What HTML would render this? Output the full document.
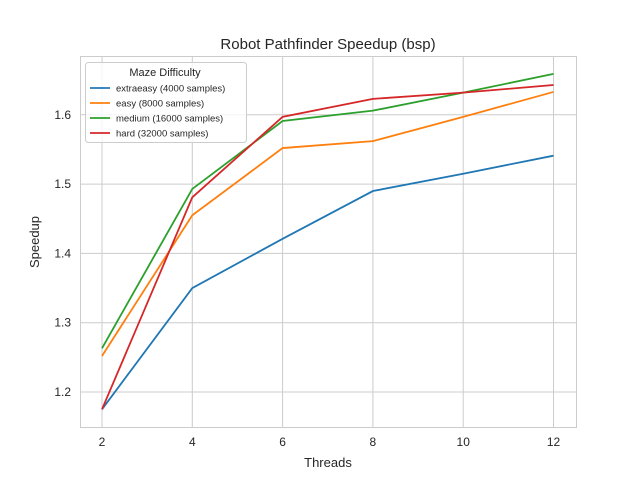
<!DOCTYPE html>
<html><head><meta charset="utf-8"><style>
body{margin:0;background:#fff;}
svg text{font-family:"Liberation Sans","DejaVu Sans",sans-serif;fill:#262626;}
</style></head><body>
<svg width="640" height="480" xmlns="http://www.w3.org/2000/svg">
<rect width="640" height="480" fill="#fff"/>
<g id="grid"></g>
<rect x="80.5" y="56.5" width="496" height="371" fill="none" stroke="#cccccc"/>
<g id="series"></g>
<g id="ticks"></g>
<text x="328" y="49" text-anchor="middle" font-size="15">Robot Pathfinder Speedup (bsp)</text>
<text x="328" y="467" text-anchor="middle" font-size="13">Threads</text>
<text x="39" y="242" text-anchor="middle" font-size="13" transform="rotate(-90 39 242)">Speedup</text>
<g>
<rect x="85.5" y="62.5" width="161" height="80" rx="3" fill="#fff" fill-opacity="0.8" stroke="#cccccc"/>
<text x="165" y="76" text-anchor="middle" font-size="11">Maze Difficulty</text>
<g id="legend-entries"></g>
</g>
</svg>
<script>
const threads=[2,4,6,8,10,12];
const seriesNames=["extraeasy (4000 samples)","easy (8000 samples)","medium (16000 samples)","hard (32000 samples)"];
const extraeasy=[1.175,1.350,1.421,1.490,1.515,1.541];
const easy=[1.252,1.455,1.552,1.562,1.597,1.633];
const medium=[1.263,1.493,1.591,1.606,1.632,1.659];
const hard=[1.175,1.481,1.597,1.623,1.632,1.643];
const xTicks=[2,4,6,8,10,12];
const yTicks=[1.2,1.3,1.4,1.5,1.6];
const colors=["#1f77b4","#ff7f0e","#2ca02c","#d62728"];
const NS="http://www.w3.org/2000/svg";
function xs(v){return 102+(v-2)*45.15;}
function ys(v){return 392-(v-1.2)*693;}
const grid=document.getElementById('grid'),ticks=document.getElementById('ticks');
xTicks.forEach(t=>{
 const l=document.createElementNS(NS,'line');
 
 
 l.setAttribute('x1',xs(t));l.setAttribute('x2',xs(t));l.setAttribute('y1',56);l.setAttribute('y2',427);l.setAttribute('stroke','#cccccc');
 grid.appendChild(l);
 const tx=document.createElementNS(NS,'text');
 
 
 tx.setAttribute('x',xs(t));tx.setAttribute('y',446);tx.setAttribute('text-anchor','middle');tx.setAttribute('font-size','12');tx.textContent=t;
 ticks.appendChild(tx);
});
yTicks.forEach(t=>{
 const l=document.createElementNS(NS,'line');
 
 
 l.setAttribute('x1',80);l.setAttribute('x2',576);l.setAttribute('y1',ys(t));l.setAttribute('y2',ys(t));l.setAttribute('stroke','#cccccc');
 grid.appendChild(l);
 const tx=document.createElementNS(NS,'text');
 
 
 tx.setAttribute('x',71);tx.setAttribute('y',ys(t)+4);tx.setAttribute('text-anchor','end');tx.setAttribute('font-size','12');tx.textContent=t.toFixed(1);
 ticks.appendChild(tx);
});
const all=[extraeasy,easy,medium,hard];
const sg=document.getElementById('series'),lg=document.getElementById('legend-entries');
all.forEach((s,i)=>{
 const p=document.createElementNS(NS,'polyline');
 
 
 p.setAttribute('points',s.map((v,j)=>xs(threads[j])+','+ys(v)).join(' '));
 p.setAttribute('fill','none');p.setAttribute('stroke',colors[i]);p.setAttribute('stroke-width','1.8');
 sg.appendChild(p);
 const y=88+i*15;
 const l=document.createElementNS(NS,'line');
 
 
 l.setAttribute('x1',90);l.setAttribute('x2',110);l.setAttribute('y1',y);l.setAttribute('y2',y);l.setAttribute('stroke',colors[i]);l.setAttribute('stroke-width','1.8');
 lg.appendChild(l);
 const t=document.createElementNS(NS,'text');
 
 
 t.setAttribute('x',116);t.setAttribute('y',y+3.5);t.setAttribute('font-size','9.5');t.textContent=seriesNames[i];
 lg.appendChild(t);
});
</script>
</body></html>
